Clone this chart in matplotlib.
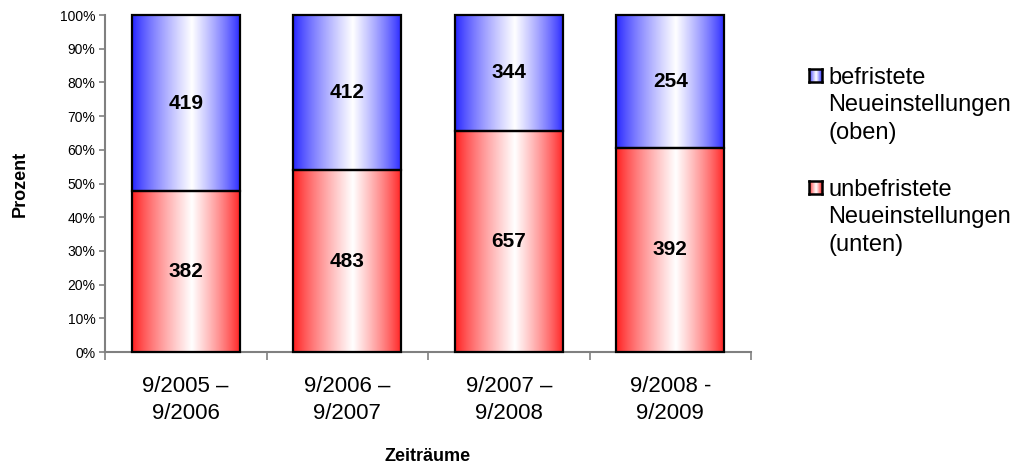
import numpy as np
import matplotlib
matplotlib.use("Agg")
import matplotlib.pyplot as plt
from matplotlib.ticker import FixedLocator, PercentFormatter

plt.rcParams['font.family'] = ['Liberation Sans', 'DejaVu Sans']

# Daten
zeitraeume = ["9/2005 –\n9/2006", "9/2006 –\n9/2007", "9/2007 –\n9/2008", "9/2008 -\n9/2009"]
unbefristet = [382, 483, 657, 392]
befristet = [419, 412, 344, 254]
legend_labels = ["befristete\nNeueinstellungen\n(oben)",
                 "unbefristete\nNeueinstellungen\n(unten)"]

BLUE = (0.13, 0.13, 1.0)
RED = (1.0, 0.1, 0.1)


def gradient_img(color, n=256):
    # horizontaler Verlauf: Farbe -> weiss -> Farbe
    t = np.linspace(0, 1, n)
    w = np.where(t < 0.55, t / 0.55, (1 - t) / 0.45)
    w = np.clip(w, 0, 1) ** 0.8
    c = np.array(color)
    img = c[None, :] * (1 - w[:, None]) + w[:, None]
    return img[None, :, :]


def gradient_bar(ax, x, bottom, height, width, color):
    patch = ax.bar(x, height, width, bottom=bottom, facecolor='none',
                   edgecolor='black', linewidth=1.6, zorder=3, clip_on=False)[0]
    im = ax.imshow(gradient_img(color), extent=(x - width / 2, x + width / 2, bottom, bottom + height),
                   aspect='auto', zorder=2, interpolation='bilinear')
    im.set_clip_path(patch)
    return patch


fig = plt.figure(figsize=(10.19, 4.63), dpi=100)
ax = fig.add_axes([105 / 1019, 1 - 352 / 463, (751 - 105) / 1019, (352 - 15) / 463])

tot = np.array(unbefristet) + np.array(befristet)
p_unten = np.array(unbefristet) / tot * 100
p_oben = np.array(befristet) / tot * 100
x = np.arange(len(zeitraeume))
bw = 0.67

for i in x:
    gradient_bar(ax, i, 0, p_unten[i], bw, RED)
    gradient_bar(ax, i, p_unten[i], p_oben[i], bw, BLUE)
    ax.text(i, p_unten[i] / 2, str(unbefristet[i]), ha='center', va='center',
            fontsize=15, fontweight='bold', zorder=4)
    ax.text(i, p_unten[i] + p_oben[i] / 2, str(befristet[i]), ha='center', va='center',
            fontsize=15, fontweight='bold', zorder=4)

ax.set_xlim(-0.5, len(zeitraeume) - 0.5)
ax.set_ylim(0, 100)
ax.set_yticks(np.arange(0, 101, 10))
ax.yaxis.set_major_formatter(PercentFormatter(decimals=0))
ax.set_xticks(x)
ax.set_xticklabels(zeitraeume, fontsize=16, linespacing=1.4)
ax.xaxis.set_minor_locator(FixedLocator(np.arange(-0.5, len(zeitraeume), 1)))
ax.tick_params(axis='x', which='major', length=0, pad=17)
ax.tick_params(axis='x', which='minor', length=6, width=1.2, color='#808080', direction='out')
ax.tick_params(axis='y', length=4, width=1.2, color='#808080', labelsize=10, pad=3)

for s in ['top', 'right']:
    ax.spines[s].set_visible(False)
for s in ['left', 'bottom']:
    ax.spines[s].set_color('#808080')
    ax.spines[s].set_linewidth(1.5)

ax.set_ylabel("Prozent", fontsize=13, fontweight='bold', labelpad=22)
ax.set_xlabel("Zeiträume", fontsize=13, fontweight='bold', labelpad=17)

# Legende von Hand
for (y_sq, col, lab) in [(69, BLUE, legend_labels[0]), (181, RED, legend_labels[1])]:
    lax = fig.add_axes([809 / 1019, 1 - (y_sq + 13) / 463, 13 / 1019, 13 / 463])
    lax.imshow(gradient_img(col), aspect='auto', extent=(0, 1, 0, 1))
    lax.set_xticks([])
    lax.set_yticks([])
    for sp in lax.spines.values():
        sp.set_linewidth(1.8)
        sp.set_color('black')
    for k, line in enumerate(lab.split("\n")):
        fig.text(828 / 1019, 1 - (y_sq + 15 + k * 27.5) / 463, line, fontsize=17,
                 ha='left', va='baseline')

fig.savefig("out.png", dpi=100)
